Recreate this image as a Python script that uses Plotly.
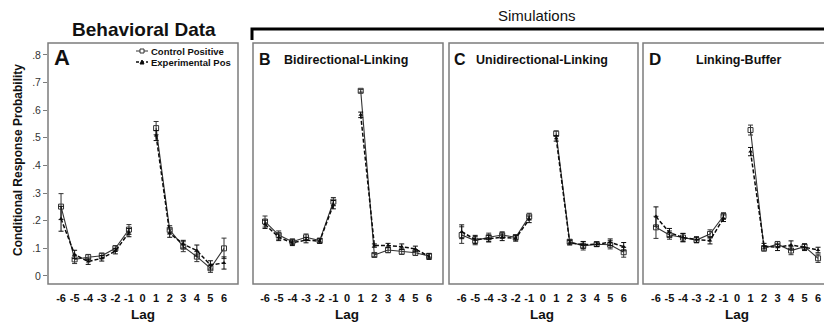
import plotly.graph_objects as go

W, H = 824, 329

lags = [-6, -5, -4, -3, -2, -1, 0, 1, 2, 3, 4, 5, 6]
lag_labels = ["-6", "-5", "-4", "-3", "-2", "-1", "0", "1", "2", "3", "4", "5", "6"]
y_ticks = [0, 0.1, 0.2, 0.3, 0.4, 0.5, 0.6, 0.7, 0.8]
y_labels = ["0", ".1", ".2", ".3", ".4", ".5", ".6", ".7", ".8"]

panel_letters = ["A", "B", "C", "D"]
panel_names = ["", "Bidirectional-Linking", "Unidirectional-Linking", "Linking-Buffer"]
series_names = ["Control Positive", "Experimental Pos"]

# Panel A (behavioral data)
A_control = [0.251, 0.060, 0.068, 0.073, 0.100, 0.168, None, 0.535, 0.167, 0.106, 0.070, 0.028, 0.100]
A_exp = [0.207, 0.078, 0.052, 0.064, 0.090, 0.157, None, 0.508, 0.155, 0.115, 0.092, 0.040, 0.047]
A_control_err = [0.047, 0.015, 0.010, 0.010, 0.010, 0.018, 0, 0.024, 0.015, 0.018, 0.018, 0.015, 0.037]
A_exp_err = [0.045, 0.015, 0.010, 0.010, 0.010, 0.015, 0, 0.018, 0.015, 0.014, 0.020, 0.015, 0.022]

# Panel B
B_control = [0.197, 0.148, 0.124, 0.140, 0.128, 0.269, None, 0.670, 0.076, 0.094, 0.088, 0.084, 0.072]
B_exp = [0.187, 0.140, 0.120, 0.130, 0.126, 0.258, None, 0.583, 0.110, 0.110, 0.106, 0.098, 0.070]
B_control_err = [0.020, 0.015, 0.010, 0.012, 0.008, 0.015, 0, 0.005, 0.005, 0.010, 0.010, 0.010, 0.010]
B_exp_err = [0.015, 0.012, 0.010, 0.010, 0.008, 0.015, 0, 0.010, 0.006, 0.008, 0.010, 0.010, 0.010]

# Panel C
C_control = [0.148, 0.128, 0.140, 0.148, 0.140, 0.215, None, 0.515, 0.124, 0.109, 0.115, 0.113, 0.086]
C_exp = [0.160, 0.132, 0.135, 0.140, 0.136, 0.205, None, 0.498, 0.120, 0.113, 0.115, 0.122, 0.106]
C_control_err = [0.030, 0.015, 0.015, 0.012, 0.010, 0.012, 0, 0.010, 0.008, 0.015, 0.008, 0.015, 0.018]
C_exp_err = [0.025, 0.015, 0.012, 0.012, 0.010, 0.012, 0, 0.010, 0.008, 0.012, 0.008, 0.012, 0.015]

# Panel D
D_control = [0.176, 0.148, 0.139, 0.130, 0.152, 0.217, None, 0.528, 0.100, 0.115, 0.092, 0.106, 0.064]
D_exp = [0.215, 0.157, 0.139, 0.132, 0.128, 0.209, None, 0.450, 0.108, 0.104, 0.112, 0.104, 0.094]
D_control_err = [0.040, 0.015, 0.015, 0.010, 0.015, 0.012, 0, 0.018, 0.010, 0.010, 0.015, 0.010, 0.015]
D_exp_err = [0.035, 0.015, 0.015, 0.010, 0.012, 0.012, 0, 0.015, 0.010, 0.012, 0.015, 0.012, 0.010]

controls = [A_control, B_control, C_control, D_control]
exps = [A_exp, B_exp, C_exp, D_exp]
control_errs = [A_control_err, B_control_err, C_control_err, D_control_err]
exp_errs = [A_exp_err, B_exp_err, C_exp_err, D_exp_err]

FONT = "Liberation Sans, Arial, sans-serif"
CTRL_COLOR = "#333333"
EXP_COLOR = "#0c0c0c"
FRAME = "#7c7c7c"


def px(x):
    return x / W


def py(y):
    return 1 - y / H


# panel pixel boxes (left, right)
boxes = [(48, 238), (253, 443), (449, 638), (643, 824)]
xranges = [[-6.96, 7.03], [-6.88, 7.02], [-6.94, 7.06], [-6.96, 6.44]]
top_px, bot_px = 43, 284
yrange = [-0.029, 0.843]

fig = go.Figure()

for i in range(4):
    xa = "x" if i == 0 else f"x{i+1}"
    ya = "y" if i == 0 else f"y{i+1}"
    fig.add_trace(go.Scatter(
        x=lags, y=controls[i], xaxis=xa, yaxis=ya, mode="lines+markers",
        name=series_names[0], showlegend=False,
        line=dict(color=CTRL_COLOR, width=1.1),
        marker=dict(symbol="square-open", size=5, color=CTRL_COLOR, line=dict(width=1)),
        error_y=dict(type="data", array=control_errs[i], visible=True,
                     color=CTRL_COLOR, thickness=1, width=2.5),
    ))
    fig.add_trace(go.Scatter(
        x=lags, y=exps[i], xaxis=xa, yaxis=ya, mode="lines+markers",
        name=series_names[1], showlegend=False,
        line=dict(color=EXP_COLOR, width=1.5, dash="4px,2px"),
        marker=dict(symbol="triangle-up", size=4, color=EXP_COLOR),
        error_y=dict(type="data", array=exp_errs[i], visible=True,
                     color=EXP_COLOR, thickness=1, width=2.5),
    ))

layout = dict(
    width=W, height=H,
    margin=dict(l=0, r=0, t=0, b=0),
    paper_bgcolor="white", plot_bgcolor="white",
    font=dict(family=FONT, color="#111"),
    showlegend=False,
)

for i in range(4):
    l, r = boxes[i]
    xkey = "xaxis" if i == 0 else f"xaxis{i+1}"
    ykey = "yaxis" if i == 0 else f"yaxis{i+1}"
    yref = "y" if i == 0 else f"y{i+1}"
    xref = "x" if i == 0 else f"x{i+1}"
    layout[xkey] = dict(
        domain=[px(l), px(r)], range=xranges[i], anchor=yref,
        tickmode="array", tickvals=lags, ticktext=lag_labels,
        showgrid=False, zeroline=False, showline=False,
        ticks="outside", ticklen=4, tickcolor="rgba(0,0,0,0)",
        tickfont=dict(family=FONT, size=11, color="#111", weight="bold"),
        fixedrange=True,
    )
    layout[ykey] = dict(
        domain=[py(bot_px), py(top_px)], range=yrange, anchor=xref,
        tickmode="array", tickvals=y_ticks, ticktext=y_labels,
        showticklabels=(i == 0), ticks="outside" if i == 0 else "",
        ticklen=4, tickcolor=FRAME, tickwidth=1,
        showgrid=False, zeroline=False, showline=False,
        tickfont=dict(family=FONT, size=10.5, color="#333"),
        fixedrange=True,
    )

fig.update_layout(**layout)

shapes = []
for i in range(4):
    xr = "x" if i == 0 else f"x{i+1}"
    yr = "y" if i == 0 else f"y{i+1}"
    shapes.append(dict(type="rect", xref=f"{xr} domain", yref=f"{yr} domain",
                       x0=0, x1=1.0 if i < 3 else 1.05, y0=0, y1=1,
                       line=dict(color=FRAME, width=1.5), fillcolor="rgba(0,0,0,0)", layer="above"))

# Simulations bracket
shapes.append(dict(type="path", xref="paper", yref="paper",
                   path=f"M {px(252)},{py(40)} L {px(252)},{py(29)} L {px(830)},{py(29)}",
                   line=dict(color="black", width=3)))

# legend samples in panel A
shapes.append(dict(type="line", xref="paper", yref="paper", x0=px(136), x1=px(148), y0=py(51), y1=py(51),
                   line=dict(color=CTRL_COLOR, width=1)))
shapes.append(dict(type="rect", xref="paper", yref="paper", x0=px(140), x1=px(144), y0=py(49), y1=py(53),
                   line=dict(color=CTRL_COLOR, width=1), fillcolor="white"))
shapes.append(dict(type="line", xref="paper", yref="paper", x0=px(136), x1=px(148), y0=py(62), y1=py(62),
                   line=dict(color=EXP_COLOR, width=1.5, dash="3px,2px")))
shapes.append(dict(type="path", xref="paper", yref="paper",
                   path=f"M {px(140)},{py(64)} L {px(142)},{py(60)} L {px(144)},{py(64)} Z",
                   line=dict(color=EXP_COLOR, width=1), fillcolor=EXP_COLOR))

annotations = []


def ann(text, x, y, size, bold=True, xanchor="center", yanchor="middle", textangle=0, color="#111"):
    annotations.append(dict(text=text, x=px(x), y=py(y), xref="paper", yref="paper",
                            showarrow=False, xanchor=xanchor, yanchor=yanchor, textangle=textangle,
                            font=dict(family=FONT, size=size, color=color,
                                      weight="bold" if bold else "normal")))


ann("Behavioral Data", 144, 30, 19)
ann("Simulations", 537, 15, 15, bold=False)
ann("Conditional Response Probability", 18, 160, 12, textangle=-90)

letter_pos = [(52, 58, 22), (257, 59, 16), (452, 59, 16), (647, 59, 17)]
for i in range(4):
    lx, ly, ls = letter_pos[i]
    ann(panel_letters[i], lx, ly, ls, xanchor="left")
ann(panel_names[1], 282, 60, 12.5, xanchor="left")
ann(panel_names[2], 474, 60, 12.5, xanchor="left")
ann(panel_names[3], 739, 60, 12.5)

lag_centers = [143, 347, 542, 737]
for c in lag_centers:
    ann("Lag", c, 314, 13.5)

ann(series_names[0], 149, 51, 9.5, xanchor="left")
ann(series_names[1], 149, 62.5, 9.5, xanchor="left")

fig.update_layout(shapes=shapes, annotations=annotations)

fig.write_html("out.html")
